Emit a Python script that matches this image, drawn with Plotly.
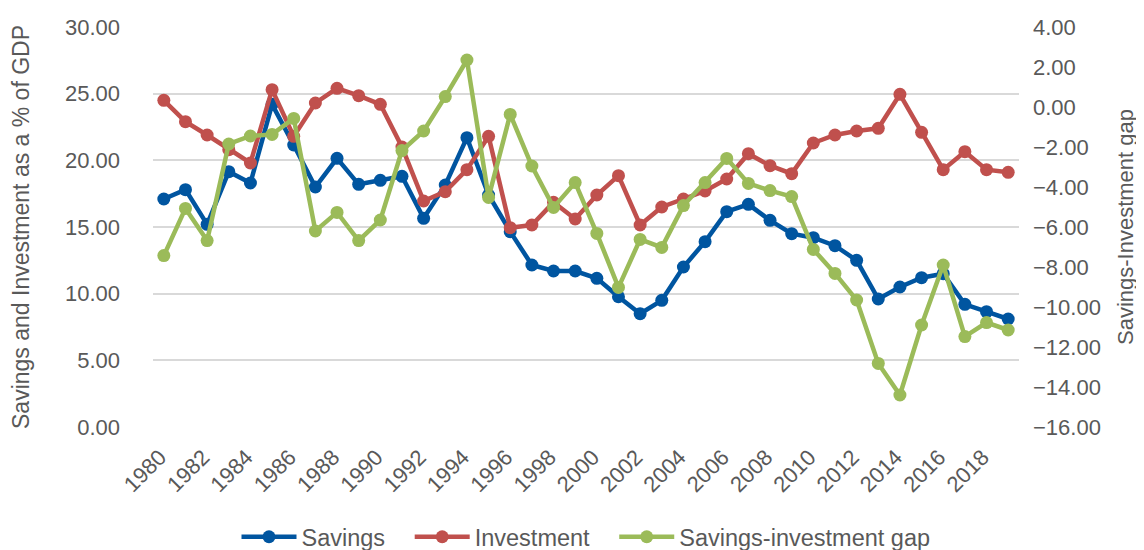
import plotly.graph_objects as go

years = list(range(1980, 2020))

savings = [17.1, 17.8, 15.2, 19.15, 18.3, 24.2, 21.15, 18.0, 20.15, 18.2,
           18.5, 18.8, 15.65, 18.15, 21.7, 17.4, 14.65, 12.15, 11.7, 11.7,
           11.15, 9.77, 8.5, 9.5, 12.0, 13.9, 16.15, 16.7, 15.5, 14.5,
           14.2, 13.6, 12.5, 9.6, 10.5, 11.2, 11.5, 9.2, 8.65, 8.1]

investment = [24.5, 22.9, 21.9, 20.8, 19.8, 25.3, 21.8, 24.3, 25.4, 24.85,
              24.2, 21.0, 16.95, 17.65, 19.3, 21.8, 14.95, 15.15, 16.85, 15.6,
              17.4, 18.85, 15.15, 16.5, 17.1, 17.7, 18.6, 20.5, 19.6, 19.0,
              21.3, 21.9, 22.2, 22.4, 24.95, 22.1, 19.3, 20.65, 19.3, 19.1]

gap = [-7.43, -5.07, -6.68, -1.85, -1.45, -1.37, -0.57, -6.2, -5.27, -6.68,
       -5.65, -2.18, -1.2, 0.52, 2.35, -4.52, -0.37, -2.95, -5.02, -3.78,
       -6.32, -9.02, -6.62, -7.02, -4.93, -3.78, -2.57, -3.82, -4.18, -4.48,
       -7.12, -8.32, -9.65, -12.82, -14.4, -10.9, -7.9, -11.48, -10.78, -11.15]

tick_years = list(range(1980, 2019, 2))

font = "Liberation Sans, Arial, sans-serif"
grey = "#595959"
pad = "\u00a0\u00a0\u00a0"  # a little extra room between legend entries

fig = go.Figure()
fig.add_trace(go.Scatter(x=years, y=savings, name="Savings" + pad, mode="lines+markers",
                         line=dict(color="#0055A0", width=4.5), marker=dict(size=13)))
fig.add_trace(go.Scatter(x=years, y=investment, name="Investment" + pad, mode="lines+markers",
                         line=dict(color="#C0504D", width=4.5), marker=dict(size=13)))
fig.add_trace(go.Scatter(x=years, y=gap, name="Savings-investment gap", mode="lines+markers",
                         line=dict(color="#9BBB59", width=4.5), marker=dict(size=13),
                         yaxis="y2"))

# the page body has an 8px margin, so the figure is a bit smaller than the window
fig.update_layout(
    width=1136, height=542,
    margin=dict(l=145, r=125, t=19, b=123, autoexpand=False),
    paper_bgcolor="white", plot_bgcolor="white",
    font=dict(family=font, color=grey, size=22),
    xaxis=dict(range=[1979.5, 2019.5], tickvals=tick_years,
               ticktext=[str(y) for y in tick_years], tickangle=-45,
               showgrid=False, zeroline=False, showline=False, automargin=False,
               tickfont=dict(size=22, color=grey), ticklabelstandoff=12,
               ticklabelshift=-4),
    yaxis=dict(range=[0, 30], dtick=5, tickformat=".2f", automargin=False,
               showgrid=True, gridcolor="#D9D9D9", gridwidth=1.5, zeroline=False,
               title=dict(text="Savings and Investment as a % of GDP",
                          font=dict(size=23, color=grey), standoff=32),
               tickfont=dict(size=22, color=grey), ticks="", ticklabelstandoff=32),
    yaxis2=dict(range=[-16, 4], dtick=2, tickformat=".2f", overlaying="y",
                side="right", showgrid=False, zeroline=False, automargin=False,
                title=dict(text="Savings-Investment gap",
                           font=dict(size=22, color=grey), standoff=17),
                tickfont=dict(size=22, color=grey), ticks="", ticklabelstandoff=13),
    legend=dict(orientation="h", x=0.5, xanchor="center", y=-0.275, yanchor="middle",
                font=dict(size=23.5, color=grey), itemwidth=55,
                traceorder="normal"),
)

fig.write_html("out.html")
